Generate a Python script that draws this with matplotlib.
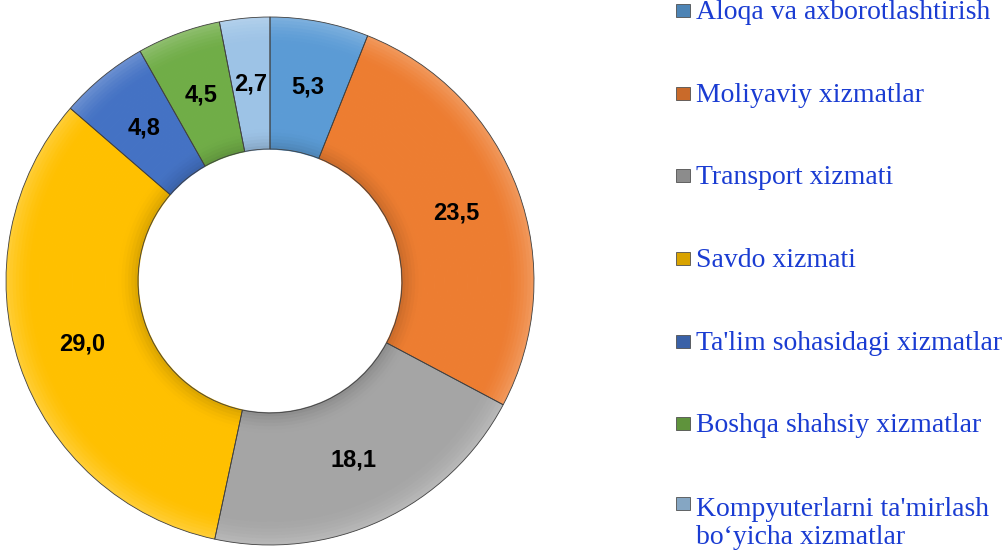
import numpy as np
import matplotlib.pyplot as plt
from matplotlib.colors import to_rgb
from matplotlib.patches import Rectangle

# data
labels = ["Aloqa va axborotlashtirish",
          "Moliyaviy xizmatlar",
          "Transport xizmati",
          "Savdo xizmati",
          "Ta'lim sohasidagi xizmatlar",
          "Boshqa shahsiy xizmatlar",
          "Kompyuterlarni ta'mirlash\nbo\u2018yicha xizmatlar"]
values = [5.3, 23.5, 18.1, 29.0, 4.8, 4.5, 2.7]
colors = ["#5b9bd5", "#ed7d31", "#a5a5a5", "#ffc000", "#4472c4", "#70ad47", "#9dc3e6"]


def shade(c, k):
    # k > 0 lightens towards white, k < 0 darkens towards black
    c = np.array(to_rgb(c))
    if k > 0:
        return tuple(c + (1 - c) * k)
    return tuple(c * (1 + k))


fig = plt.figure(figsize=(10.08, 5.51), dpi=100)
ax = fig.add_axes([6 / 1008, 6 / 551, 528 / 1008, 528 / 551])

# ring drawn as thin radial bands to fake the bevelled look
n_bands = 40
edges = np.linspace(1.0, 0.5, n_bands + 1)
for i in range(n_bands):
    u = ((edges[i] + edges[i + 1]) / 2 - 0.5) / 0.5   # 0 at hole, 1 at rim
    k = 0.22 * max(0.0, (u - 0.8) / 0.2) ** 1.5 - 0.15 * max(0.0, (0.15 - u) / 0.15) ** 1.5
    ax.pie(values, colors=[shade(c, k) for c in colors], startangle=90,
           counterclock=False, radius=edges[i],
           wedgeprops=dict(width=edges[i] - edges[i + 1] + 0.003, linewidth=0))

# outlines
ax.pie(values, colors=["none"] * len(values), startangle=90, counterclock=False,
       radius=1.0, wedgeprops=dict(width=0.5, edgecolor="#404040", linewidth=0.6,
                                   fill=False))

# data labels in the middle of the ring
total = sum(values)
ang = 90.0
for v in values:
    mid = np.deg2rad(ang - v / total * 180.0)
    ax.text(0.75 * np.cos(mid), 0.75 * np.sin(mid), f"{v:.1f}".replace(".", ","),
            ha="center", va="center", fontsize=17, fontweight="bold",
            family="Liberation Sans", color="black")
    ang -= v / total * 360.0

ax.set_xlim(-1, 1)
ax.set_ylim(-1, 1)
ax.set_aspect("equal")
ax.axis("off")

# legend drawn by hand, first-line baselines ~83 px apart
base_px = [19, 102, 184, 267, 350, 432, 512]
line_px = 32
for lab, col, yp in zip(labels, colors, base_px):
    fig.patches.append(Rectangle((676 / 1008, 1 - (yp - 2) / 551), 14 / 1008, 13 / 551,
                                 transform=fig.transFigure, facecolor=shade(col, -0.15),
                                 edgecolor="#505050", linewidth=0.6))
    last = yp + line_px * lab.count("\n")
    fig.text(696 / 1008, 1 - last / 551, lab, ha="left", va="baseline", fontsize=20,
             family="Liberation Serif", color="#1a3cd2", linespacing=1.15)

fig.savefig("out.png", dpi=100)
